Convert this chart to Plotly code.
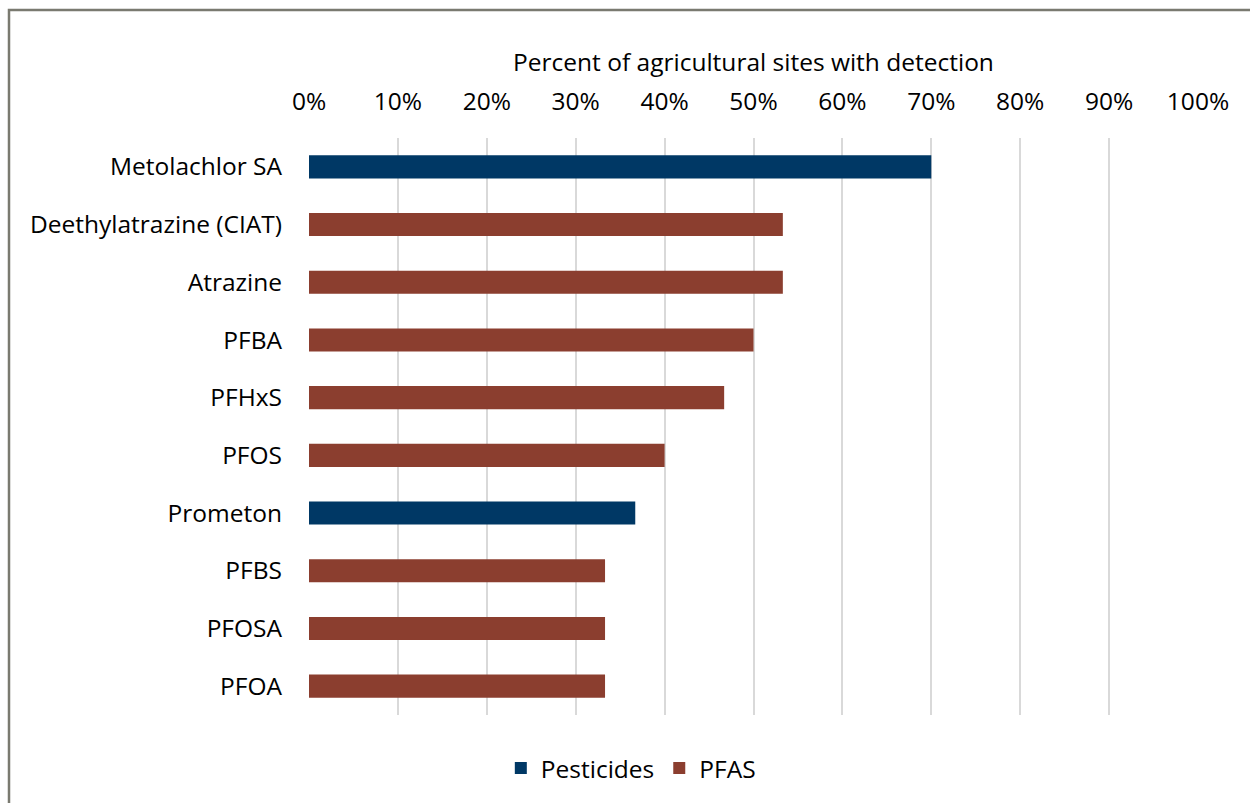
import plotly.graph_objects as go

# Share of agricultural sites where each compound was detected (%)
compounds = ["Metolachlor SA", "Deethylatrazine (CIAT)", "Atrazine", "PFBA", "PFHxS",
             "PFOS", "Prometon", "PFBS", "PFOSA", "PFOA"]
groups = ["Pesticides", "PFAS", "PFAS", "PFAS", "PFAS",
          "PFAS", "Pesticides", "PFAS", "PFAS", "PFAS"]
percent_detected = [70.0, 53.3, 53.3, 50.0, 46.7, 40.0, 36.7, 33.3, 33.3, 33.3]

x_ticks = list(range(0, 101, 10))
x_tick_labels = [f"{v}%" for v in x_ticks]

group_colors = {"Pesticides": "#003865", "PFAS": "#8B3E2F"}

FONT = "'Open Sans', 'Noto Sans', sans-serif"
FS = 24.5

fig = go.Figure()
for g in ["Pesticides", "PFAS"]:
    ys = [c for c, grp in zip(compounds, groups) if grp == g]
    xs = [v for v, grp in zip(percent_detected, groups) if grp == g]
    fig.add_trace(go.Bar(
        x=xs, y=ys, name=g, orientation="h", width=0.4,
        marker=dict(color=group_colors[g], line=dict(width=0)),
    ))

W, H = 1250, 803
ml, mr, mt, mb = 309, 52, 138, 88
pw, ph = W - ml - mr, H - mt - mb

# Outer chart frame (left/top edges visible, right/bottom run off the page)
fx0 = (9 - ml) / pw
fy1 = (H - mb - 10) / ph
fig.add_shape(type="path",
              path=f"M 1.3 {fy1} L {fx0} {fy1} L {fx0} -0.4",
              xref="paper", yref="paper",
              line=dict(color="#7a7a70", width=2.5), layer="above")

fig.update_layout(
    width=W, height=H,
    margin=dict(l=ml, r=mr, t=mt, b=mb),
    paper_bgcolor="white", plot_bgcolor="white",
    font=dict(family=FONT, size=FS, color="#000000"),
    barmode="overlay",
    showlegend=True,
    legend=dict(orientation="h", x=0.362, xanchor="center", y=-0.092, yanchor="middle",
                font=dict(size=FS, family=FONT), traceorder="normal"),
    xaxis=dict(
        side="top", range=[0, 100], tickvals=x_ticks, ticktext=x_tick_labels,
        showgrid=True, gridcolor="#d9d9d9", gridwidth=1.5,
        zeroline=False, showline=False, ticks="",
        ticklabelstandoff=22,
        title=dict(text="Percent of agricultural sites with detection",
                   font=dict(size=FS, family=FONT), standoff=5),
        fixedrange=True,
    ),
    yaxis=dict(
        categoryorder="array", categoryarray=compounds, autorange="reversed",
        showgrid=False, zeroline=False, showline=False, ticks="",
        ticklabelstandoff=26, fixedrange=True,
    ),
)

fig.write_html("out.html")
